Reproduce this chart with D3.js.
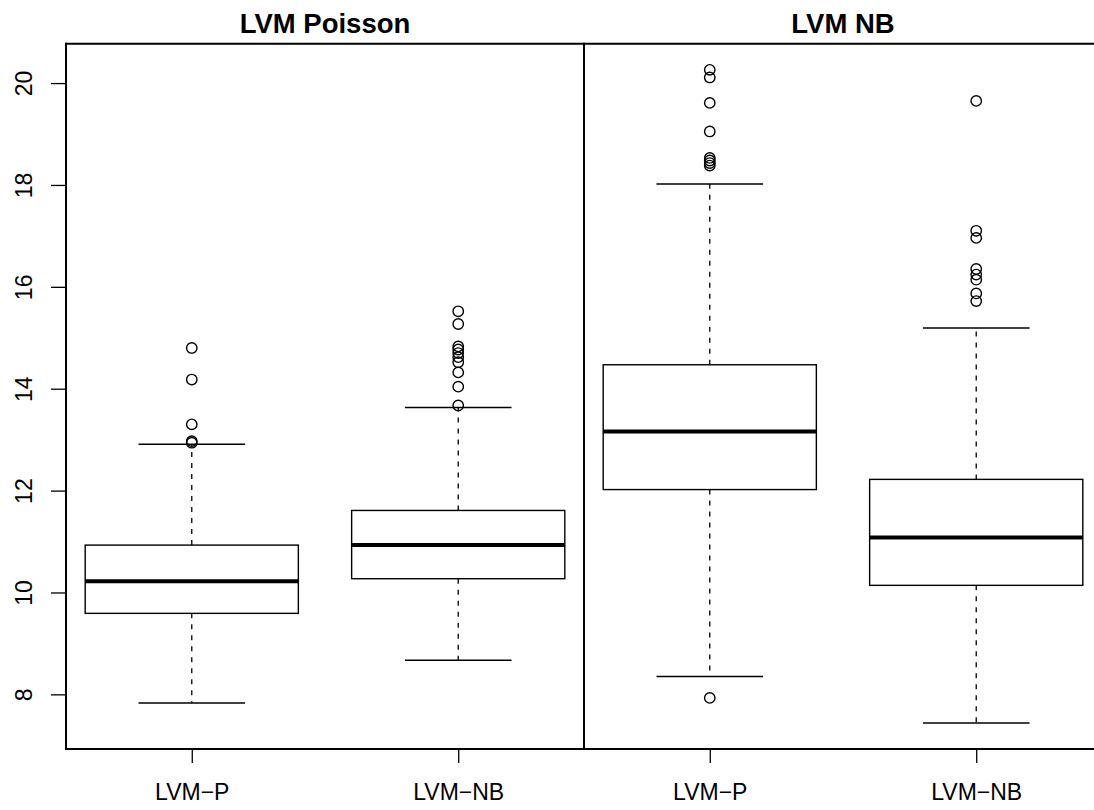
<!DOCTYPE html>
<html><head><meta charset="utf-8">
<script src="https://cdn.jsdelivr.net/npm/d3@7"></script>
<style>body{margin:0;background:#fff}svg{display:block}</style>
</head><body>
<svg id="chart" width="1094" height="810"></svg>
<script>
// ---- data ----
const panels = ["LVM Poisson", "LVM NB"];
const methods = ["LVM\u2212P", "LVM\u2212NB"];
// per panel, per method
const lowerWhisker = [[7.83, 8.67], [8.35, 7.44]];
const q1 = [[9.59, 10.27], [12.02, 10.14]];
const medians = [[10.22, 10.93], [13.16, 11.08]];
const q3 = [[10.93, 11.61], [14.47, 12.22]];
const upperWhisker = [[12.91, 13.63], [18.02, 15.19]];
const outliers = [
  [[14.80, 14.18, 13.30, 12.97, 12.94],
   [15.52, 15.27, 14.83, 14.77, 14.70, 14.62, 14.52, 14.32, 14.04, 13.67]],
  [[20.26, 20.11, 19.61, 19.05, 18.53, 18.48, 18.43, 18.38, 7.93],
   [19.65, 17.10, 16.96, 16.35, 16.24, 16.14, 15.87, 15.72]]
];
const yTicks = [8, 10, 12, 14, 16, 18, 20];

// ---- layout ----
(function () {
const svg = d3.select("#chart");
const plotTop = 43.7, plotBottom = 749, plotLeft = 66, panelW = 518;
const font = "'Liberation Sans', Arial, Helvetica, sans-serif";

const allVals = [].concat(lowerWhisker.flat(), upperWhisker.flat(), outliers.flat(2));
const dmin = d3.min(allVals), dmax = d3.max(allVals), ext = (dmax - dmin) * 0.04;
const y = d3.scaleLinear().domain([dmin - ext, dmax + ext]).range([plotBottom, plotTop]);

const panelX = d3.scaleBand().domain(panels).range([plotLeft, plotLeft + 2 * panelW]);

// frame
const g = svg.append("g");
const frame = [
  [plotLeft, plotTop, 1094, plotTop],
  [plotLeft, plotBottom, 1094, plotBottom],
  [plotLeft, plotTop, plotLeft, plotBottom],
  [plotLeft + panelW, plotTop, plotLeft + panelW, plotBottom]
];
frame.forEach(f => g.append("line").attr("x1", f[0]).attr("y1", f[1]).attr("x2", f[2]).attr("y2", f[3])
  .attr("stroke", "#000").attr("stroke-width", 2).attr("stroke-linecap", "square"));

// y axis
const yAxis = d3.axisLeft(y).tickValues(yTicks).tickSize(15).tickFormat(d3.format("d"));
const ya = svg.append("g").attr("transform", `translate(${plotLeft},0)`).call(yAxis);
ya.select(".domain").remove();
ya.selectAll(".tick line").attr("stroke", "#000").attr("stroke-width", 1.3);
ya.selectAll(".tick text")
  .attr("font-family", font).attr("font-size", 23).attr("fill", "#000")
  .attr("text-anchor", "middle").attr("dy", null)
  .attr("x", 0).attr("y", 0)
  .attr("transform", "translate(-34,0) rotate(-90)");

panels.forEach((p, pi) => {
  const x0 = panelX(p);
  const x = d3.scalePoint().domain(methods).range([x0, x0 + panelW]).padding(0.472);
  const step = x.step();
  const bw = step * 0.8;
  const pg = svg.append("g");

  // title
  pg.append("text").attr("x", x0 + panelW / 2).attr("y", 32.5)
    .attr("text-anchor", "middle").attr("font-family", font).attr("font-weight", "bold")
    .attr("font-size", 27.5).text(p);

  // x axis
  const xAxis = d3.axisBottom(x).tickSize(14).tickPadding(21);
  const xa = pg.append("g").attr("transform", `translate(0,${plotBottom})`).call(xAxis);
  xa.select(".domain").remove();
  xa.selectAll(".tick line").attr("stroke", "#000").attr("stroke-width", 1.3);
  xa.selectAll(".tick text").attr("font-family", font).attr("font-size", 23).attr("fill", "#000");

  methods.forEach((m, mi) => {
    const cx = x(m);
    // whiskers
    pg.append("line").attr("x1", cx).attr("x2", cx)
      .attr("y1", y(q3[pi][mi])).attr("y2", y(upperWhisker[pi][mi]))
      .attr("stroke", "#000").attr("stroke-width", 1.3).attr("stroke-dasharray", "5,6");
    pg.append("line").attr("x1", cx).attr("x2", cx)
      .attr("y1", y(q1[pi][mi])).attr("y2", y(lowerWhisker[pi][mi]))
      .attr("stroke", "#000").attr("stroke-width", 1.3).attr("stroke-dasharray", "5,6");
    // staples
    [upperWhisker[pi][mi], lowerWhisker[pi][mi]].forEach(v => {
      pg.append("line").attr("x1", cx - bw / 4).attr("x2", cx + bw / 4)
        .attr("y1", y(v)).attr("y2", y(v)).attr("stroke", "#000").attr("stroke-width", 1.5);
    });
    // box
    pg.append("rect").attr("x", cx - bw / 2).attr("width", bw)
      .attr("y", y(q3[pi][mi])).attr("height", y(q1[pi][mi]) - y(q3[pi][mi]))
      .attr("fill", "#fff").attr("stroke", "#000").attr("stroke-width", 1.4);
    // median
    pg.append("line").attr("x1", cx - bw / 2).attr("x2", cx + bw / 2)
      .attr("y1", y(medians[pi][mi])).attr("y2", y(medians[pi][mi]))
      .attr("stroke", "#000").attr("stroke-width", 4);
    // outliers
    pg.selectAll(null).data(outliers[pi][mi]).enter().append("circle")
      .attr("cx", cx).attr("cy", d => y(d)).attr("r", 5.2)
      .attr("fill", "none").attr("stroke", "#000").attr("stroke-width", 1.4);
  });
});
})();
</script>
</body></html>
